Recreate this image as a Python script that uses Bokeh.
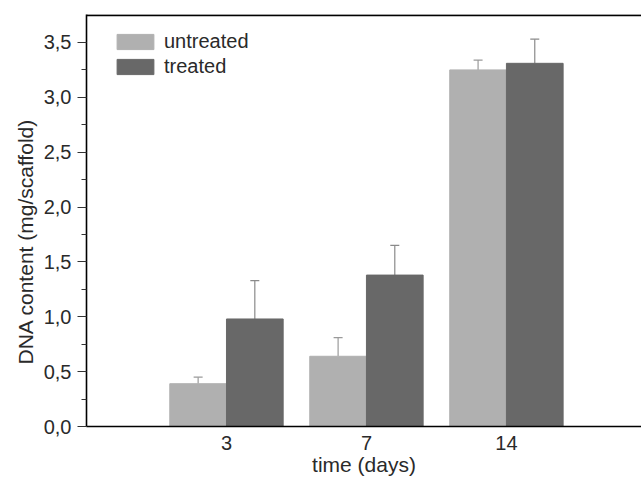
from bokeh.plotting import figure
from bokeh.models import (ColumnDataSource, FixedTicker, Whisker, TeeHead, Span,
                          Range1d, Legend, LegendItem, Title)
from bokeh.transform import dodge
from bokeh.embed import file_html
from bokeh.resources import INLINE

days = ["3", "7", "14"]
untreated = [0.39, 0.64, 3.25]
untreated_err = [0.06, 0.17, 0.09]
treated = [0.98, 1.38, 3.31]
treated_err = [0.35, 0.27, 0.22]
y_ticks = [0.0, 0.5, 1.0, 1.5, 2.0, 2.5, 3.0, 3.5]

pos = list(range(1, len(days) + 1))
src = ColumnDataSource(dict(
    x=pos, u=untreated, ue=[a + b for a, b in zip(untreated, untreated_err)],
    t=treated, te=[a + b for a, b in zip(treated, treated_err)],
))

FONT = "Liberation Sans"
TXT = "#2a2a2a"
Y_END = 3.755

p = figure(width=641, height=478, output_backend="svg", toolbar_location=None,
           x_range=Range1d(0, 3.965), y_range=Range1d(0, Y_END),
           min_border_top=14, min_border_right=0, min_border_left=86,
           min_border_bottom=0)
p.outline_line_color = None
p.xgrid.visible = False
p.ygrid.visible = False
p.background_fill_color = "white"

w = 0.405
off = 0.2025
ru = p.vbar(x=dodge("x", -off, range=p.x_range), top="u", width=w, source=src,
            fill_color="#b0b0b0", line_color="#b0b0b0")
rt = p.vbar(x=dodge("x", off, range=p.x_range), top="t", width=w, source=src,
            fill_color="#686868", line_color="#686868")

for top, hi, color, sgn in (("u", "ue", "#9a9a9a", -1), ("t", "te", "#8a8a8a", 1)):
    wk = Whisker(base=dodge("x", sgn * off, range=p.x_range), lower=top, upper=hi,
                 source=src, line_color=color, line_width=1.2,
                 upper_head=TeeHead(size=9, line_color=color, line_width=1.2),
                 lower_head=None)
    p.add_layout(wk)

p.add_layout(Span(location=Y_END - 0.006, dimension="width", line_color="black",
                  line_width=2))

# axes
p.yaxis.ticker = FixedTicker(ticks=y_ticks, minor_ticks=[0.25 + 0.5 * i for i in range(7)])
p.yaxis.major_label_overrides = {t: f"{t:.1f}".replace(".", ",") for t in y_ticks}
p.yaxis.major_tick_out = 9
p.yaxis.major_tick_in = 0
p.yaxis.minor_tick_out = 5
p.yaxis.minor_tick_in = 0
p.yaxis.major_label_standoff = 6

p.xaxis.ticker = FixedTicker(ticks=pos)
p.xaxis.major_label_overrides = {i: d for i, d in zip(pos, days)}
p.xaxis.major_tick_out = 0
p.xaxis.major_tick_in = 0
p.xaxis.minor_tick_out = 0
p.xaxis.minor_tick_in = 0
p.xaxis.major_label_standoff = 9
p.xaxis.axis_label = "time (days)"
p.xaxis.axis_label_standoff = 0

for ax in (p.xaxis[0], p.yaxis[0]):
    ax.axis_line_color = "black"
    ax.axis_line_width = 1.6
    ax.major_tick_line_color = "#333333"
    ax.minor_tick_line_color = "#333333"
    ax.major_label_text_font = FONT
    ax.major_label_text_font_size = "20px"
    ax.major_label_text_color = TXT
    ax.axis_label_text_font = FONT
    ax.axis_label_text_font_size = "21px"
    ax.axis_label_text_font_style = "normal"
    ax.axis_label_text_color = TXT

ylabel = Title(text="DNA content (mg/scaffold)", align="left", offset=62,
               text_font=FONT, text_font_size="21px", text_font_style="normal",
               text_color=TXT, standoff=8)
p.add_layout(ylabel, "left")

legend = Legend(items=[LegendItem(label="untreated", renderers=[ru]),
                       LegendItem(label="treated", renderers=[rt])],
                location=(26, 348))
legend.glyph_width = 46
legend.glyph_height = 19
legend.label_height = 23
legend.spacing = 2
legend.padding = 0
legend.margin = 0
legend.label_standoff = 6
legend.border_line_color = None
legend.background_fill_alpha = 0
legend.label_text_font = FONT
legend.label_text_font_size = "20px"
legend.label_text_color = TXT
p.add_layout(legend)

open("out.html", "w").write(file_html(p, INLINE))
